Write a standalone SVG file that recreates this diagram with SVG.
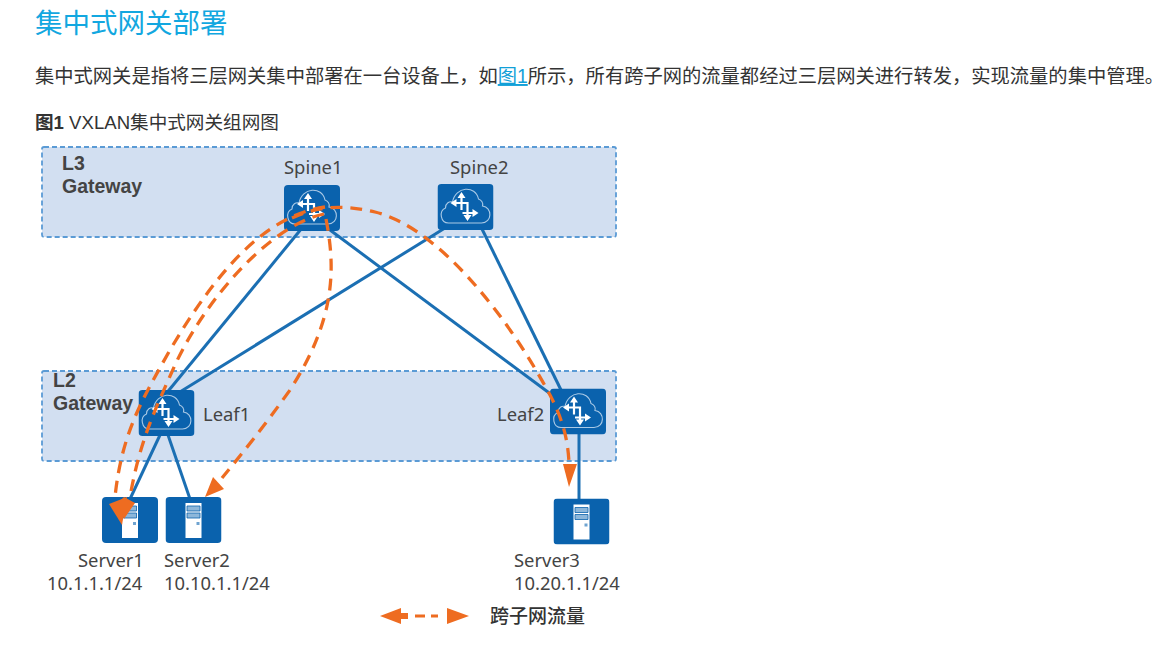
<svg xmlns="http://www.w3.org/2000/svg" width="1172" height="656" viewBox="0 0 1172 656">
<style>
text{font-family:"Noto Sans","Noto Sans CJK SC",sans-serif;fill:#444}
.cjk{font-family:"Liberation Sans","Noto Sans CJK SC",sans-serif;fill:#333}
.lb{font-size:18.400px}
.b{font-family:"Liberation Sans",sans-serif;font-weight:700;font-size:19.500px}
.zone{fill:#d2dff1;stroke:#5b9bd5;stroke-width:1.800;stroke-dasharray:5 3}
.link{stroke:#1b6fb3;stroke-width:3;fill:none}
.flow{stroke:#ee6c21;stroke-width:3.300;fill:none;stroke-dasharray:12 8}
.head{fill:#ee6c21}
</style>
<defs>
<symbol id="sw" width="56" height="46" viewBox="0 0 56 46">
<rect x="0" y="0" width="56" height="46" rx="4" fill="#0a62ad"/>
<path d="M11 39C3 39 1 27 8 24C8 19 12 17 15 18C18 2 38 1 41 15C44 16 46 19 45 22C55 23 55 39 44 39Z" fill="none" stroke="#a9c9e6" stroke-width="1.100"/>
<g stroke="#fff" stroke-width="2.200" fill="#fff">
<path d="M17 19H31M25 29H37M24 12V26M30 18V33" fill="none"/>
<path d="M13 19l6-4v8zM41 29l-6-4v8zM24 8l-4 6h8zM30 37l-4-6h8z" stroke="none"/>
</g>
</symbol>
<symbol id="srv" width="56" height="46" viewBox="0 0 56 46">
<rect x="0" y="0" width="56" height="46" rx="4" fill="#0a62ad"/>
<rect x="20" y="6" width="16" height="35" fill="#fff"/>
<path d="M21.500 9H34.500V14H21.500ZM21.500 16H34.500V21H21.500Z" fill="#8db7da" stroke="#0a62ad" stroke-width=".8"/>
<rect x="31" y="25" width="3" height="3" fill="#6fa3d0"/>
</symbol>
</defs>

<text x="35" y="33" style="font-family:'Liberation Sans','Noto Sans CJK SC',sans-serif;font-size:27.500px;fill:#12a7e0">集中式网关部署</text>
<text class="cjk" x="35" y="83" font-size="19.300">集中式网关是指将三层网关集中部署在一台设备上，如<tspan fill="#12a0d8" text-decoration="underline">图1</tspan>所示，所有跨子网的流量都经过三层网关进行转发，实现流量的集中管理。</text>
<text class="cjk" x="35" y="129" font-size="18.600"><tspan font-weight="700">图1</tspan> VXLAN集中式网关组网图</text>

<g id="zone-l3">
<rect class="zone" x="42" y="147" width="574" height="90" rx="2"/>
<text class="b"><tspan x="62" y="170">L3</tspan><tspan x="62" y="193">Gateway</tspan></text>
</g>
<g id="zone-l2">
<rect class="zone" x="42" y="371" width="574" height="90" rx="2"/>
<text class="b"><tspan x="53" y="387">L2</tspan><tspan x="53" y="410">Gateway</tspan></text>
</g>

<g id="links">
<path class="link" d="M302 228L165 395"/>
<path class="link" d="M330 230L556 398"/>
<path class="link" d="M445 228L175 395"/>
<path class="link" d="M482 229L562 392"/>
<path class="link" d="M160 435L130 499"/>
<path class="link" d="M168 435L190 499"/>
<path class="link" d="M579 433V499"/>
</g>

<g id="spine1"><use href="#sw" x="284" y="185"/><text class="lb" x="284" y="174">Spine1</text></g>
<g id="spine2"><use href="#sw" x="437.500" y="184"/><text class="lb" x="450" y="174">Spine2</text></g>
<g id="leaf1"><use href="#sw" x="138.500" y="390"/><text class="lb" x="203" y="421">Leaf1</text></g>
<g id="leaf2"><use href="#sw" x="550" y="388.500"/><text class="lb" x="497" y="421">Leaf2</text></g>
<g id="server1"><use href="#srv" x="102" y="497"/><text class="lb" x="78" y="567">Server1</text><text class="lb" x="47" y="590">10.1.1.1/24</text></g>
<g id="server2"><use href="#srv" x="165.500" y="497"/><text class="lb" x="164" y="567">Server2</text><text class="lb" x="164" y="590">10.10.1.1/24</text></g>
<g id="server3"><use href="#srv" x="553.500" y="498.500"/><text class="lb" x="514" y="567">Server3</text><text class="lb" x="514" y="590">10.20.1.1/24</text></g>

<g id="connectors">
<path class="flow" d="M325 207C270 215 222 262 170 350C145 395 122 430 115 497"/>
<path class="head" d="M109 504L122 525L127 497Z"/>
<path class="flow" d="M324 214C270 225 205 300 175 365C155 410 140 440 130 497"/>
<path class="head" d="M124 497L135 503L124 519L118 503Z"/>
<path class="flow" d="M326 219C336 270 335 320 290 390C265 425 245 450 222 478"/>
<path class="head" d="M205 497L213 477L224 489Z"/>
<path class="flow" d="M292 218C320 205 345 205 375 212C440 228 510 320 550 395C563 420 568 440 569 463"/>
<path class="head" d="M563 464H577L569 487Z"/>
</g>

<g id="legend">
<path class="head" d="M380 616L401 608V613H408V619H401V624Z"/>
<path d="M415 616H425M431 616H438" stroke="#ee6c21" stroke-width="3"/>
<path class="head" d="M447 608L469 616L447 624Z"/>
<text class="cjk" x="490" y="623" font-size="19" font-weight="500">跨子网流量</text>
</g>
</svg>
